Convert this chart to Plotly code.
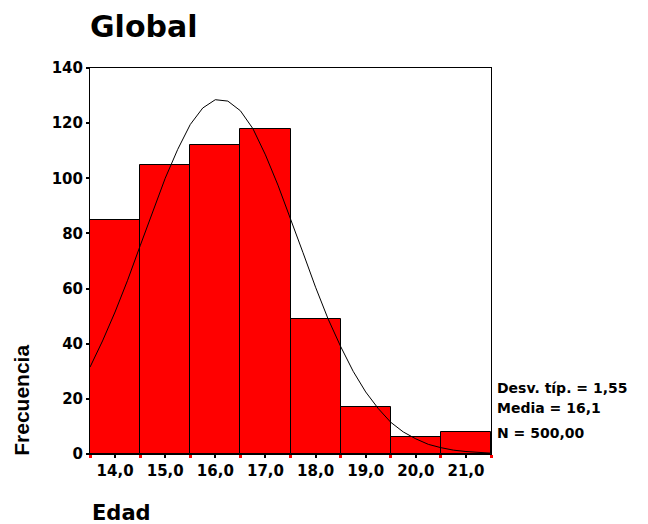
import plotly.graph_objects as go

# Data
edad = [14, 15, 16, 17, 18, 19, 20, 21]
frecuencia = [85, 105, 112, 118, 49, 17, 6, 8]
tick_labels = ["14,0", "15,0", "16,0", "17,0", "18,0", "19,0", "20,0", "21,0"]
bin_edges = [13.5, 14.5, 15.5, 16.5, 17.5, 18.5, 19.5, 20.5, 21.5]

# Normal curve, points
curve_x = [13.5, 13.75, 14.0, 14.25, 14.5, 14.75, 15.0, 15.25, 15.5, 15.75,
           16.0, 16.25, 16.5, 16.75, 17.0, 17.25, 17.5, 17.75, 18.0, 18.25,
           18.5, 18.75, 19.0, 19.25, 19.5, 19.75, 20.0, 20.25, 20.5, 20.75,
           21.0, 21.25, 21.5]
curve_y = [31.5, 41, 51.5, 63, 75.5, 88, 100, 110.5, 119.5, 125.5,
           128.5, 128, 124.5, 118, 108.5, 97.5, 85.5, 73, 60.5, 49,
           39, 30, 22.5, 16.5, 11.5, 8, 5.5, 3.5, 2.3, 1.4,
           0.9, 0.5, 0.3]

stats = ["Desv. típ. = 1,55", "Media = 16,1", "N = 500,00"]

BOLD = "DejaVu Sans, sans-serif"
ARIAL = "Liberation Sans, Arial, sans-serif"

W, H = 640, 516  # page body keeps its default 8px margin

fig = go.Figure()
fig.add_trace(go.Bar(
    x=edad, y=frecuencia, width=1,
    marker=dict(color="#ff0000", line=dict(color="#000000", width=1)),
    showlegend=False,
))
fig.add_trace(go.Scatter(
    x=curve_x, y=curve_y, mode="lines",
    line=dict(color="#000000", width=1),
    showlegend=False,
))

fig.update_layout(
    width=W, height=H,
    margin=dict(l=82, r=157, t=60, b=70),
    paper_bgcolor="white", plot_bgcolor="white",
    bargap=0,
    title=dict(text="Global", x=82 / W, xanchor="left", xref="container",
               y=1 - 18 / H, yanchor="middle", yref="container",
               font=dict(family=BOLD, size=30, color="black", weight="bold")),
    font=dict(family=BOLD, color="black"),
)

fig.update_xaxes(
    range=[13.5, 21.5],
    tickvals=edad, ticktext=tick_labels,
    ticks="outside", ticklen=3, tickcolor="black", tickwidth=2,
    minor=dict(tickvals=bin_edges, ticks="outside", ticklen=3,
               tickcolor="#ff0000", tickwidth=3),
    tickfont=dict(family=BOLD, size=15, color="black", weight="bold"),
    showline=True, linecolor="black", linewidth=1, mirror=True,
    showgrid=False, zeroline=False,
)
fig.update_yaxes(
    range=[0, 140], dtick=20,
    ticks="outside", ticklen=3, tickcolor="black", tickwidth=2,
    tickfont=dict(family=BOLD, size=15, color="black", weight="bold"),
    showline=True, linecolor="black", linewidth=1, mirror=True,
    showgrid=False, zeroline=False,
)

fig.add_annotation(text="Frecuencia", textangle=-90, xref="paper", yref="paper",
                   x=-0.17, y=0.14, xanchor="center", yanchor="middle",
                   showarrow=False,
                   font=dict(family=ARIAL, size=21, color="black", weight="bold"))
fig.add_annotation(text="Edad", xref="paper", yref="paper",
                   x=0.0, y=-0.152, xanchor="left", yanchor="middle",
                   showarrow=False,
                   font=dict(family=BOLD, size=21, color="black", weight="bold"))

for txt, yy in zip(stats, [0.172, 0.12, 0.055]):
    fig.add_annotation(text=txt, xref="paper", yref="paper",
                       x=1.01, y=yy, xanchor="left", yanchor="middle",
                       showarrow=False,
                       font=dict(family=BOLD, size=14, color="black", weight="bold"))

fig.write_html("out.html")
